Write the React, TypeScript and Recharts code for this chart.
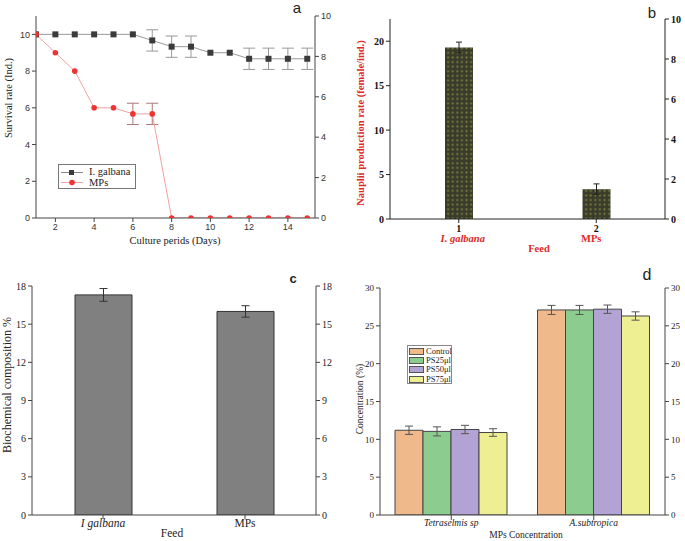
import React from 'react';
import { LineChart, Line, BarChart, Bar, XAxis, YAxis, ErrorBar, Legend } from 'recharts';

// ---- Panel a: survival ----
const days = [1, 2, 3, 4, 5, 6, 7, 8, 9, 10, 11, 12, 13, 14, 15];
const galbanaSurvival = [10, 10, 10, 10, 10, 10, 9.67, 9.33, 9.33, 9, 9, 8.67, 8.67, 8.67, 8.67];
const galbanaSurvivalErr = [null, null, null, null, null, null, 0.58, 0.58, 0.58, null, null, 0.58, 0.58, 0.58, 0.58];
const mpsSurvival = [10, 9, 8, 6, 6, 5.67, 5.67, 0, 0, 0, 0, 0, 0, 0, 0];
const mpsSurvivalErr = [null, null, null, null, null, 0.58, 0.58, null, null, null, null, null, null, null, null];
const dayTicks = [2, 4, 6, 8, 10, 12, 14];
const survivalTicks = [0, 2, 4, 6, 8, 10];
const survivalRightTicks = [0, 2, 4, 6, 8, 10];

// ---- Panel b: nauplii ----
const naupliiPositions = [1, 2];
const naupliiFeeds = ['I. galbana', 'MPs'];
const naupliiRate = [19.3, 3.35];
const naupliiErr = [0.6, 0.6];
const naupliiTicks = [0, 5, 10, 15, 20];
const naupliiRightTicks = [0, 2, 4, 6, 8, 10];

// ---- Panel c: biochemical ----
const bioFeeds = ['I galbana', 'MPs'];
const bioValues = [17.3, 16.0];
const bioErr = [0.5, 0.45];
const bioTicks = [0, 3, 6, 9, 12, 15, 18];

// ---- Panel d: concentration ----
const species = ['Tetraselmis sp', 'A.subtropica'];
const treatments = ['Control', 'PS25μl', 'PS50μl', 'PS75μl'];
const controlConc = [11.2, 27.1];
const ps25Conc = [11.05, 27.1];
const ps50Conc = [11.3, 27.2];
const ps75Conc = [10.9, 26.3];
const controlErr = [0.55, 0.6];
const ps25Err = [0.6, 0.6];
const ps50Err = [0.55, 0.55];
const ps75Err = [0.5, 0.55];
const concTicks = [0, 5, 10, 15, 20, 25, 30];
const treatmentColors = ['#f0b98c', '#8ccd8f', '#b3a2d4', '#eeee92'];

const SERIF = '"Liberation Serif", "Times New Roman", serif';
const SANS = '"Liberation Sans", Arial, sans-serif';

const noTick = () => <g />;

const SquareDot = (props: any) => {
  const { cx, cy, index } = props;
  if (cx == null || cy == null) return <g key={`sq-${index}`} />;
  return <rect key={`sq-${index}`} x={cx - 3} y={cy - 3} width={6} height={6} fill="#3b3b3b" />;
};

const LegendA = () => (
  <div style={{ border: '1px solid #777', background: '#fff', width: 78, height: 25, boxSizing: 'border-box', position: 'relative', fontFamily: SERIF, fontSize: 10.5, color: '#222' }}>
    <svg width={24} height={24} style={{ position: 'absolute', left: 2, top: 0 }}>
      <line x1={0} y1={7.5} x2={22} y2={7.5} stroke="#888" strokeWidth={1} />
      <rect x={8} y={5} width={5} height={5} fill="#3b3b3b" />
      <line x1={0} y1={17.5} x2={22} y2={17.5} stroke="#f3a0a0" strokeWidth={1} />
      <circle cx={11} cy={17.5} r={2.8} fill="#ee3333" />
    </svg>
    <div style={{ position: 'absolute', left: 30, top: 1, lineHeight: '11px' }}>I. galbana</div>
    <div style={{ position: 'absolute', left: 30, top: 12, lineHeight: '11px' }}>MPs</div>
  </div>
);

function PanelA() {
  const data = days.map((d, i) => ({
    day: d,
    galbana: galbanaSurvival[i],
    galbanaErr: galbanaSurvivalErr[i],
    mps: mpsSurvival[i],
    mpsErr: mpsSurvivalErr[i],
  }));
  const tickStyle = { fontSize: 9, fill: '#333', fontFamily: SANS };
  return (
    <LineChart width={345} height={260} data={data} margin={{ top: 16, right: 5, bottom: 12, left: 6 }}>
      <XAxis dataKey="day" type="number" domain={[1, 15.4]} ticks={dayTicks} allowDataOverflow stroke="#444" tickSize={4} tick={tickStyle} height={30} />
      <XAxis xAxisId="top" orientation="top" dataKey="day" type="number" domain={[1, 15.4]} ticks={dayTicks} allowDataOverflow stroke="#444" height={0} tick={noTick} tickSize={0} />
      <YAxis yAxisId="l" type="number" domain={[0, 11]} ticks={survivalTicks} allowDataOverflow stroke="#444" tickSize={4} tick={tickStyle} width={30} />
      <YAxis yAxisId="r" orientation="right" type="number" domain={[0, 10]} ticks={survivalRightTicks} allowDataOverflow stroke="#444" tickSize={4} tick={tickStyle} width={25} />
      <Line yAxisId="l" dataKey="galbana" stroke="#999" strokeWidth={1} dot={SquareDot} isAnimationActive={false}>
        <ErrorBar dataKey="galbanaErr" width={6} stroke="#999" strokeWidth={1} />
      </Line>
      <Line yAxisId="l" dataKey="mps" stroke="#f3a0a0" strokeWidth={1} dot={{ r: 2.8, fill: '#ee3333', stroke: '#ee3333', strokeWidth: 0 }} isAnimationActive={false}>
        <ErrorBar dataKey="mpsErr" width={6} stroke="#a77" strokeWidth={1} />
      </Line>
      <Legend layout="horizontal" verticalAlign="middle" align="center" content={LegendA as any}
        wrapperStyle={{ left: 58, top: 164, bottom: 'auto', right: 'auto', width: 'auto' }} />
    </LineChart>
  );
}

const NaupliiTick = (props: any) => {
  const { x, y, payload } = props;
  const i = naupliiPositions.indexOf(payload.value);
  return (
    <g>
      <text x={x} y={y + 3} textAnchor="middle" dominantBaseline="central" fontFamily={SERIF} fontWeight="bold" fontSize={10} fill="#111">{payload.value}</text>
      <text x={x + (i === 0 ? 4 : -5)} y={y + 13} textAnchor="middle" dominantBaseline="central" fontFamily={SERIF} fontWeight="bold" fontStyle={i === 0 ? 'italic' : 'normal'} fontSize={10.5} fill="#e02828">{naupliiFeeds[i]}</text>
    </g>
  );
};

function PanelB() {
  const data = naupliiPositions.map((p, i) => ({ pos: p, rate: naupliiRate[i], err: naupliiErr[i] }));
  const tickStyle = { fontSize: 10, fill: '#111', fontFamily: SERIF, fontWeight: 'bold' };
  return (
    <BarChart width={345} height={260} data={data} margin={{ top: 19, right: 5, bottom: 0, left: 15 }}>
      <defs>
        <pattern id="dotsB" x={0} y={0} width={4.6} height={4.6} patternUnits="userSpaceOnUse">
          <rect x={0} y={0} width={4.6} height={4.6} fill="#3a3c2b" />
          <circle cx={2.3} cy={2.3} r={1.05} fill="#7d7d3e" />
        </pattern>
      </defs>
      <XAxis dataKey="pos" type="number" domain={[0.5, 2.5]} ticks={naupliiPositions} allowDataOverflow stroke="#222" tickSize={4} tick={NaupliiTick} height={41} />
      <XAxis xAxisId="top" orientation="top" dataKey="pos" type="number" domain={[0.5, 2.5]} ticks={[0.9, 1.3, 1.7, 2.1]} allowDataOverflow stroke="#444" height={0} tick={noTick} tickSize={-3} />
      <YAxis yAxisId="l" type="number" domain={[0, 22.5]} ticks={naupliiTicks} allowDataOverflow stroke="#222" tickSize={4} tick={tickStyle} width={35} />
      <YAxis yAxisId="r" orientation="right" type="number" domain={[0, 10]} ticks={naupliiRightTicks} allowDataOverflow stroke="#222" tickSize={4} tick={tickStyle} width={15} />
      <Bar yAxisId="l" dataKey="rate" barSize={28} fill="url(#dotsB)" isAnimationActive={false}>
        <ErrorBar dataKey="err" width={3} stroke="#222" strokeWidth={1} />
      </Bar>
    </BarChart>
  );
}

const BioTick = (props: any) => {
  const { x, y, payload } = props;
  return (
    <text x={x} y={y + 2} textAnchor="middle" dominantBaseline="central" fontFamily={SERIF} fontSize={11.5}
      fontStyle={payload.value === bioFeeds[0] ? 'italic' : 'normal'} fill="#222">{payload.value}</text>
  );
};

function PanelC() {
  const data = bioFeeds.map((f, i) => ({ feed: f, value: bioValues[i], err: bioErr[i] }));
  const tickStyle = { fontSize: 10, fill: '#222', fontFamily: SERIF };
  return (
    <BarChart width={345} height={281} data={data} margin={{ top: 26, right: 5, bottom: 0, left: 10 }}>
      <XAxis dataKey="feed" stroke="#444" tickSize={4} tick={BioTick} height={26} />
      <XAxis xAxisId="top" orientation="top" dataKey="feed" stroke="#444" height={0} tick={noTick} tickSize={0} />
      <YAxis yAxisId="l" type="number" domain={[0, 18]} ticks={bioTicks} allowDataOverflow stroke="#444" tickSize={4} tick={tickStyle} width={22} />
      <YAxis yAxisId="r" orientation="right" type="number" domain={[0, 18]} ticks={bioTicks} allowDataOverflow stroke="#444" tickSize={4} tick={tickStyle} width={24} />
      <Bar yAxisId="l" dataKey="value" barSize={57} fill="#808080" stroke="#333" strokeWidth={1} isAnimationActive={false}>
        <ErrorBar dataKey="err" width={4} stroke="#333" strokeWidth={1} />
      </Bar>
    </BarChart>
  );
}

const SpeciesTick = (props: any) => {
  const { x, y, payload } = props;
  return (
    <text x={x} y={y + 1} textAnchor="middle" dominantBaseline="central" fontFamily={SERIF} fontSize={9.5} fontStyle="italic" fill="#222">{payload.value}</text>
  );
};

const LegendD = () => (
  <div style={{ border: '1px solid #888', background: '#fff', width: 45, height: 39, boxSizing: 'border-box', position: 'relative', fontFamily: SERIF, fontSize: 8.5, color: '#222' }}>
    {treatments.map((t, i) => (
      <div key={t} style={{ position: 'absolute', left: 1, top: 1 + i * 9.2, height: 9, display: 'flex', alignItems: 'center' }}>
        <div style={{ width: 15, height: 7, background: treatmentColors[i], border: '1px solid #555', boxSizing: 'border-box' }} />
        <span style={{ marginLeft: 2, lineHeight: '9px' }}>{t}</span>
      </div>
    ))}
  </div>
);

function PanelD() {
  const data = species.map((s, i) => ({
    species: s,
    control: controlConc[i], controlErr: controlErr[i],
    ps25: ps25Conc[i], ps25Err: ps25Err[i],
    ps50: ps50Conc[i], ps50Err: ps50Err[i],
    ps75: ps75Conc[i], ps75Err: ps75Err[i],
  }));
  const keys = ['control', 'ps25', 'ps50', 'ps75'];
  const tickStyle = { fontSize: 9, fill: '#222', fontFamily: SERIF };
  return (
    <BarChart width={345} height={281} data={data} margin={{ top: 28, right: 5, bottom: 0, left: 10 }} barGap={0}>
      <XAxis dataKey="species" stroke="#444" tickSize={5} tick={SpeciesTick} height={26} />
      <XAxis xAxisId="top" orientation="top" dataKey="species" stroke="#444" height={0} tick={noTick} tickSize={0} />
      <YAxis yAxisId="l" type="number" domain={[0, 30]} ticks={concTicks} allowDataOverflow stroke="#444" tickSize={4} tick={tickStyle} width={30} />
      <YAxis yAxisId="r" orientation="right" type="number" domain={[0, 30]} ticks={concTicks} allowDataOverflow stroke="#444" tickSize={4} tick={tickStyle} width={15} />
      {keys.map((k, i) => (
        <Bar key={k} yAxisId="l" dataKey={k} name={treatments[i]} barSize={28} fill={treatmentColors[i]} stroke="#444" strokeWidth={1} isAnimationActive={false}>
          <ErrorBar dataKey={`${k}Err`} width={4} stroke="#555" strokeWidth={1} />
        </Bar>
      ))}
      <Legend layout="horizontal" verticalAlign="middle" align="center" content={LegendD as any}
        wrapperStyle={{ left: 67, top: 85, bottom: 'auto', right: 'auto', width: 'auto' }} />
    </BarChart>
  );
}

export default function App() {
  return (
    <div style={{ position: 'absolute', left: 0, top: 0, width: 685, height: 541, background: '#fff', overflow: 'hidden' }}>
      <div style={{ position: 'absolute', left: 0, top: 0 }}><PanelA /></div>
      <div style={{ position: 'absolute', left: 340, top: 0 }}><PanelB /></div>
      <div style={{ position: 'absolute', left: 0, top: 260 }}><PanelC /></div>
      <div style={{ position: 'absolute', left: 340, top: 260 }}><PanelD /></div>
      <svg width={685} height={541} style={{ position: 'absolute', left: 0, top: 0, pointerEvents: 'none' }}>
        {/* Panel a titles */}
        <text x={297} y={7} textAnchor="middle" dominantBaseline="central" fontFamily={SANS} fontSize={15} fill="#222">a</text>
        <text x={175} y={240} textAnchor="middle" dominantBaseline="central" fontFamily={SERIF} fontSize={10.5} fill="#222">Culture perids (Days)</text>
        <text x={8} y={98} textAnchor="middle" dominantBaseline="central" fontFamily={SERIF} fontSize={10.5} fill="#222" transform="rotate(-90 8 98)">Survival rate (Ind.)</text>
        {/* Panel b titles */}
        <text x={652} y={12} textAnchor="middle" dominantBaseline="central" fontFamily={SANS} fontSize={15} fill="#222">b</text>
        <text x={539} y={248} textAnchor="middle" dominantBaseline="central" fontFamily={SERIF} fontWeight="bold" fontSize={10.5} fill="#e02828">Feed</text>
        <text x={360} y={123} textAnchor="middle" dominantBaseline="central" fontFamily={SERIF} fontWeight="bold" fontSize={10.5} fill="#e02828" transform="rotate(-90 360 123)">Nauplii production rate (female/ind.)</text>
        {/* Panel c titles */}
        <text x={293} y={278} textAnchor="middle" dominantBaseline="central" fontFamily={SANS} fontWeight="bold" fontSize={13} fill="#222">c</text>
        <text x={172} y={533} textAnchor="middle" dominantBaseline="central" fontFamily={SERIF} fontSize={11.5} fill="#222">Feed</text>
        <text x={7} y={385} textAnchor="middle" dominantBaseline="central" fontFamily={SERIF} fontSize={12} fill="#222" transform="rotate(-90 7 385)">Biochemical composition %</text>
        {/* Panel d titles */}
        <text x={647} y={274} textAnchor="middle" dominantBaseline="central" fontFamily={SANS} fontSize={16} fill="#222">d</text>
        <text x={526} y={535} textAnchor="middle" dominantBaseline="central" fontFamily={SERIF} fontSize={9.5} fill="#222">MPs Concentration</text>
        <text x={360} y={399} textAnchor="middle" dominantBaseline="central" fontFamily={SERIF} fontSize={9.5} fill="#222" transform="rotate(-90 360 399)">Concentration (%)</text>
      </svg>
    </div>
  );
}
